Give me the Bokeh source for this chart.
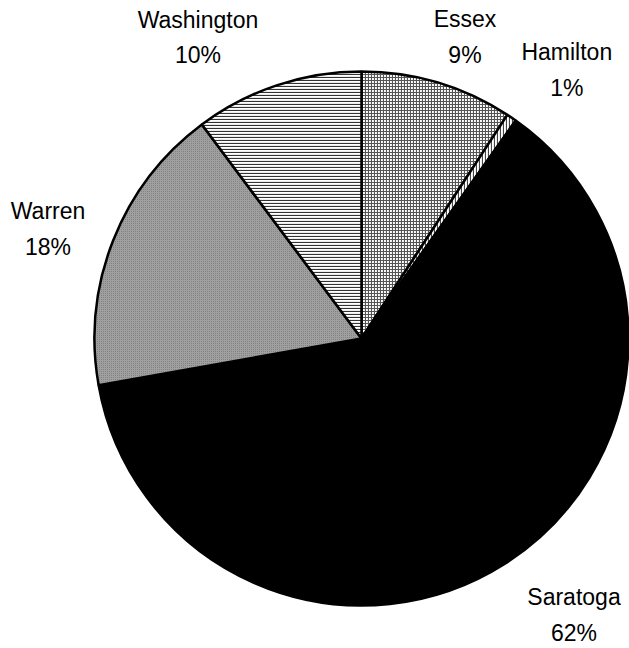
import math
from bokeh.plotting import figure
from bokeh.models import ColumnDataSource
from bokeh.core.properties import value
from bokeh.embed import file_html
from bokeh.resources import INLINE

# ---- data ----
counties = ["Essex", "Hamilton", "Saratoga", "Warren", "Washington"]
shares = [9.2, 0.6, 62.4, 17.6, 10.2]

# ---- styles ----
fills = ["white", "white", "black", "#a0a0a0", "white"]
hatches = ["+", "|", " ", ".", "-"]
hatch_colors = ["#555555", "#444444", "black", "#777777", "#333333"]
hatch_scales = [3, 3, 3, 2, 3]
# pixel nudges for label placement (style only)
nudge_x = [8, 17, 33, -2, -58]
nudge_y = [-20, -9, 6, -14, -17]

W, H = 629, 648
CX, CY, R = 361, H - 338, 267
LABEL_D = 335

total = sum(shares)
starts, ends, lx, ly, texts = [], [], [], [], []
cum = 0.0
for i, (name, v) in enumerate(zip(counties, shares)):
    a0 = math.pi / 2 - 2 * math.pi * cum / total
    cum += v
    a1 = math.pi / 2 - 2 * math.pi * cum / total
    starts.append(a0)
    ends.append(a1)
    mid = (a0 + a1) / 2
    lx.append(CX + LABEL_D * math.cos(mid) + nudge_x[i])
    ly.append(CY + LABEL_D * math.sin(mid) + nudge_y[i])
    texts.append(f"{name}\n{round(v / total * 100)}%")

src = ColumnDataSource(dict(start=starts, end=ends, fill=fills, hatch=hatches,
                            hcol=hatch_colors, hscale=hatch_scales))
lsrc = ColumnDataSource(dict(x=lx, y=ly, text=texts))

p = figure(width=W, height=H, x_range=(0, W), y_range=(0, H),
           output_backend="svg", toolbar_location=None, min_border=0)
p.axis.visible = False
p.grid.visible = False
p.outline_line_color = None
p.background_fill_color = "white"

p.wedge(x=CX, y=CY, radius=R, start_angle="start", end_angle="end",
        direction="clock", source=src, fill_color="fill",
        hatch_pattern="hatch", hatch_color="hcol", hatch_scale="hscale",
        hatch_weight=1.2, line_color="black", line_width=2.5)

p.text(x="x", y="y", text="text", source=lsrc, text_align="center",
       text_baseline="middle", text_font=value("Liberation Sans"),
       text_font_size="23px", text_color="black", text_line_height=1.38)

open("out.html", "w").write(file_html(p, INLINE))
